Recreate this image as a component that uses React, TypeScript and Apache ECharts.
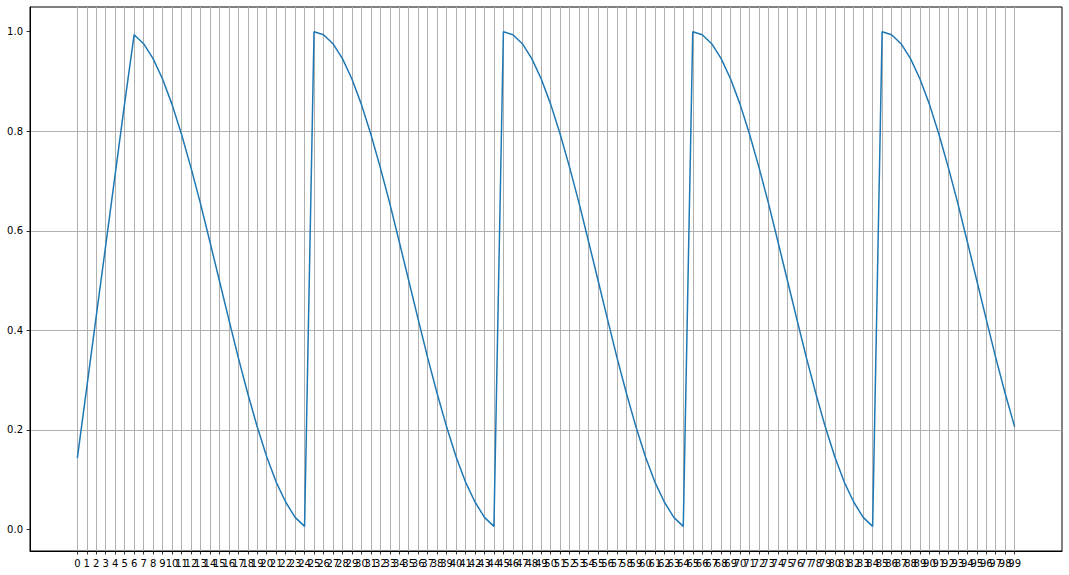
import React, { useEffect, useRef } from 'react';
import * as echarts from 'echarts';

// x positions 0..99 (one per step)
const steps: string[] = Array.from({ length: 100 }, (_, i) => String(i));

// values: short warmup, then repeated cosine decays
const lrValues: number[] = [
  0.143, 0.286, 0.429, 0.571, 0.714, 0.857,
  0.994, 0.976, 0.946, 0.905, 0.854, 0.794, 0.727, 0.655, 0.578, 0.5,
  0.422, 0.345, 0.273, 0.206, 0.146, 0.095, 0.055, 0.024, 0.006,
  1.0, 0.994, 0.976, 0.946, 0.905, 0.854, 0.794, 0.727, 0.655, 0.578,
  0.5, 0.422, 0.345, 0.273, 0.206, 0.146, 0.095, 0.055, 0.024, 0.006,
  1.0, 0.994, 0.976, 0.946, 0.905, 0.854, 0.794, 0.727, 0.655, 0.578,
  0.5, 0.422, 0.345, 0.273, 0.206, 0.146, 0.095, 0.055, 0.024, 0.006,
  1.0, 0.994, 0.976, 0.946, 0.905, 0.854, 0.794, 0.727, 0.655, 0.578,
  0.5, 0.422, 0.345, 0.273, 0.206, 0.146, 0.095, 0.055, 0.024, 0.006,
  1.0, 0.994, 0.976, 0.946, 0.905, 0.854, 0.794, 0.727, 0.655, 0.578,
  0.5, 0.422, 0.345, 0.273, 0.206
];

const yTicks: number[] = [0, 0.2, 0.4, 0.6, 0.8, 1.0];

// matplotlib-like margins around the data
const PAD = 5;
const axisCats: string[] = [
  ...Array.from({ length: PAD }, (_, i) => String(i - PAD)),
  ...steps,
  ...Array.from({ length: PAD }, (_, i) => String(steps.length + i))
];
const isStep = (index: number) => index >= PAD && index < PAD + steps.length;
// one blank label on each side so the real end labels are not dropped for overlapping
const isLabelSlot = (index: number) => index >= PAD - 1 && index <= PAD + steps.length;

const FONT = "'DejaVu Sans', sans-serif";
const GRID_COLOR = '#b0b0b0';

const App: React.FC = () => {
  const chartRef = useRef<HTMLDivElement>(null);

  useEffect(() => {
    if (!chartRef.current) return;
    const chart = echarts.init(chartRef.current, null, { renderer: 'svg' });

    const option: any = {
      animation: false,
      backgroundColor: '#ffffff',
      textStyle: { fontFamily: FONT },
      grid: {
        left: 30,
        right: 7,
        top: 7,
        bottom: 24,
        show: true,
        borderColor: '#000000',
        borderWidth: 1,
        backgroundColor: 'transparent'
      },
      xAxis: {
        type: 'category',
        data: axisCats,
        boundaryGap: false,
        axisLine: { show: true, onZero: false, lineStyle: { color: '#000000', width: 1 } },
        axisTick: {
          show: true,
          inside: false,
          length: 3.5,
          interval: (index: number) => isStep(index),
          lineStyle: { color: '#000000', width: 0.8 }
        },
        axisLabel: {
          interval: (index: number) => isLabelSlot(index),
          formatter: (value: string, index: number) => (isStep(index) ? value : ' '),
          showMinLabel: true,
          showMaxLabel: true,
          color: '#000000',
          fontSize: 10,
          fontFamily: FONT,
          margin: 7,
          hideOverlap: false
        },
        splitLine: {
          show: true,
          interval: (index: number) => isStep(index),
          lineStyle: { color: GRID_COLOR, width: 1 }
        }
      },
      yAxis: {
        type: 'value',
        min: -0.0435,
        max: 1.0497,
        splitNumber: 5,
        axisLine: { show: true, onZero: false, lineStyle: { color: '#000000', width: 1 } },
        axisTick: {
          show: true,
          inside: false,
          length: 3.5,
          customValues: yTicks,
          lineStyle: { color: '#000000', width: 0.8 }
        },
        axisLabel: {
          customValues: yTicks,
          showMinLabel: true,
          showMaxLabel: true,
          color: '#000000',
          fontSize: 10,
          fontFamily: FONT,
          margin: 7,
          formatter: (v: number) => v.toFixed(1)
        },
        splitLine: {
          show: true,
          showMinLine: false,
          showMaxLine: false,
          lineStyle: { color: GRID_COLOR, width: 1 }
        }
      },
      series: [
        {
          type: 'line',
          data: lrValues.map((v, i) => [steps[i], v]),
          showSymbol: false,
          smooth: false,
          lineStyle: { color: '#1f77b4', width: 1.5 },
          itemStyle: { color: '#1f77b4' }
        }
      ]
    };

    chart.setOption(option);

    return () => {
      chart.dispose();
    };
  }, []);

  return (
    <div
      ref={chartRef}
      style={{ position: 'fixed', left: 0, top: 0, width: 1069, height: 575 }}
    />
  );
};

export default App;
